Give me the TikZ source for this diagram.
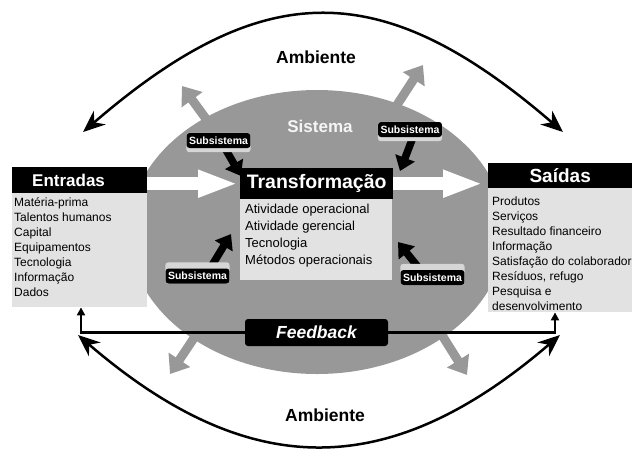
\documentclass[tikz,border=0pt]{standalone}
\usepackage{fontspec}
\setmainfont{Liberation Sans}
\usepackage{tikz}
\usetikzlibrary{arrows.meta, calc, shapes.geometric}
\pgfdeclarelayer{bg}
\pgfdeclarelayer{mid}
\pgfsetlayers{bg,mid,main}
\definecolor{sysgray}{RGB}{152,152,152}
\definecolor{boxgray}{RGB}{226,226,226}
\definecolor{bevel}{RGB}{214,214,214}
\tikzset{>=latex}
\tikzset{
  head/.style={fill=black, text=white, inner sep=0pt},
  body/.style={fill=boxgray, inner sep=0pt, anchor=north west},
  txt/.style={anchor=north west, align=left, inner sep=0pt},
  sub/.style={fill=black, text=white, rounded corners=3pt, inner xsep=2.5pt,
    inner ysep=0pt, minimum height=15pt, font=\fontsize{10.5}{12}\selectfont\bfseries},
  bev/.style={fill=bevel, rounded corners=3pt},
  subarr/.style={line width=7.5pt, -{Triangle[length=14pt,width=20pt]}},
  outarr/.style={draw=sysgray, line width=9pt, -{Triangle[length=17pt,width=25pt]}},
  inarr/.style={draw=white, line width=13pt, -{Triangle[length=40pt,width=25pt]}},
  envarr/.style={line width=2.5pt, {Stealth[length=22pt,width=18pt]}-{Stealth[length=22pt,width=18pt]}},
  fbarr/.style={line width=2.5pt, -{Triangle[length=8pt,width=8pt]}},
}
\def\bodyfont{\fontsize{12}{15}\selectfont}

\begin{document}
\begin{tikzpicture}[x=1pt, y=-1pt]
\useasboundingbox (0,0) rectangle (632,451);

% ambiente
\coordinate (envTL) at (83,132);
\coordinate (envTR) at (563,132);
\coordinate (envBL) at (78,335);
\coordinate (envBR) at (560,335);
\draw[envarr] (envTL) .. controls (264,-24) and (382,-24) .. (envTR);
\draw[envarr] (envBL) .. controls (249,482) and (389,482) .. (envBR);
\node[font=\fontsize{17.5}{18}\selectfont\bfseries] (ambTop) at (316,57) {Ambiente};
\node[font=\fontsize{17.5}{18}\selectfont\bfseries] (ambBot) at (325,415) {Ambiente};

% sistema
\begin{pgfonlayer}{bg}
\node[ellipse, fill=sysgray, inner sep=0pt, minimum width=376pt, minimum height=284pt] (sys) at (317,232) {};
\foreach \x/\y/\u/\v in {212/127/182/86, 395/108/423/65, 198/332/170/374, 440/332/467/375} {
  \draw[outarr] (\x,\y) -- (\u,\v);
}
\end{pgfonlayer}
\node[text=white!96!black, font=\fontsize{17}{18}\selectfont\bfseries] (sysLbl) at (320,126) {Sistema};

% entradas
\node[head, anchor=north west, minimum width=135pt, minimum height=26pt, inner xsep=20pt,
  text width=95pt, align=left, font=\fontsize{17}{18}\selectfont\bfseries] (entH) at (12,167) {Entradas};
\node[body, minimum width=135pt, minimum height=114pt] (entB) at (12,193) {};
\node[txt, font=\bodyfont] (entT) at ([xshift=2pt,yshift=-4pt]entB.north west)
  {Matéria-prima\\Talentos humanos\\Capital\\Equipamentos\\Tecnologia\\Informação\\Dados};

% transformacao
\node[head, anchor=north west, minimum width=153pt, minimum height=31pt,
  font=\fontsize{19.5}{20}\selectfont\bfseries] (trfH) at (240,168) {Transformação};
\node[body, minimum width=152pt, minimum height=81pt] (trfB) at (240,199) {};
\node[txt, font=\fontsize{13}{17}\selectfont] (trfT) at ([xshift=5pt,yshift=-4.5pt]trfB.north west)
  {Atividade operacional\\Atividade gerencial\\Tecnologia\\Métodos operacionais};

% saidas
\node[head, anchor=north west, minimum width=144pt, minimum height=25pt,
  font=\fontsize{19}{20}\selectfont\bfseries] (saiH) at (488,163) {Saídas};
\node[body, minimum width=144pt, minimum height=124pt] (saiB) at (488,188) {};
\node[txt, font=\bodyfont] (saiT) at ([xshift=4pt,yshift=-9pt]saiB.north west)
  {Produtos\\Serviços\\Resultado financeiro\\Informação\\Satisfação do colaborador\\Resíduos, refugo\\Pesquisa e\\desenvolvimento};

% fluxo principal
\draw[inarr, shorten >=2pt] (entH.east |- trfH.west) -- (trfH.west);
\draw[inarr, shorten >=5pt] (trfH.east) -- (trfH.east -| saiH.west);

% subsistemas
\node[sub] (s1) at (218.5,140.5) {Subsistema};
\node[sub] (s2) at (410,129.5) {Subsistema};
\node[sub] (s3) at (197.5,276) {Subsistema};
\node[sub] (s4) at (432.5,277.5) {Subsistema};
\coordinate (t1) at (241,176);
\coordinate (t2) at (400,171);
\coordinate (t3) at (231,234);
\coordinate (t4) at (398,242);
\begin{pgfonlayer}{bg}
\draw[subarr] ([xshift=2pt]s1.center) -- (t1);
\draw[subarr] ([xshift=6pt]s2.center) -- (t2);
\draw[subarr] ([xshift=8pt]s3.center) -- (t3);
\draw[subarr] ([xshift=-6pt]s4.center) -- (t4);
\end{pgfonlayer}
\begin{pgfonlayer}{mid}
\fill[bev] ([yshift=-4pt]s1.south west) rectangle (s1.north east);
\fill[bev] ([yshift=-4pt]s2.south west) rectangle (s2.north east);
\fill[bev] (s3.south west) rectangle ([yshift=6pt]s3.north east);
\fill[bev] (s4.south west) rectangle ([yshift=6pt]s4.north east);
\end{pgfonlayer}

% feedback
\node[fill=black, text=white, rounded corners=3pt, minimum width=143pt, minimum height=27pt,
  font=\fontsize{17.5}{18}\selectfont\bfseries\itshape] (fb) at (316.5,332.5) {Feedback};
\draw[fbarr] (fb.west) -| ([xshift=69pt]entB.south west);
\draw[fbarr] (fb.east) -| ([xshift=67pt]saiB.south west);

\end{tikzpicture}
\end{document}
